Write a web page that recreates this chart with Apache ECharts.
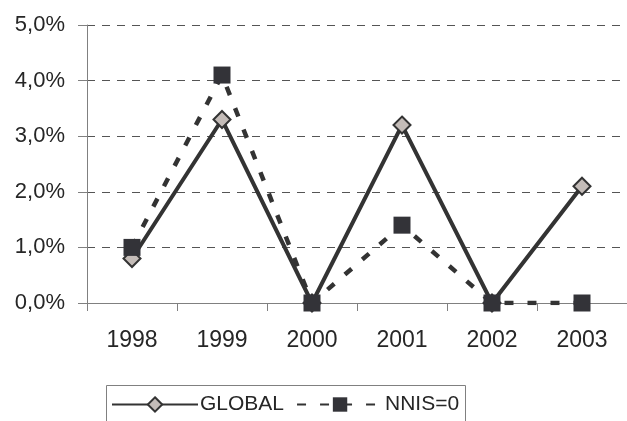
<!DOCTYPE html>
<html>
<head>
<meta charset="utf-8">
<script src="https://cdn.jsdelivr.net/npm/echarts@6/dist/echarts.min.js"></script>
<style>html,body{margin:0;padding:0;background:#fff;}#c{width:627px;height:421px;}</style>
</head>
<body>
<div id="c"></div>
<script>
var categories = ['1998', '1999', '2000', '2001', '2002', '2003'];
var globalValues = [0.8, 3.3, 0.0, 3.2, 0.0, 2.1];
var nnisValues = [1.0, 4.1, 0.0, 1.4, 0.0, 0.0];
var seriesNames = ['GLOBAL', 'NNIS=0'];

var chart = echarts.init(document.getElementById('c'), null, {renderer: 'canvas'});
var font = 'Liberation Sans, Arial, sans-serif';
chart.setOption({
  animation: false,
  backgroundColor: '#ffffff',
  grid: {left: 87, right: 0, top: 25, bottom: 118, containLabel: false},
  xAxis: {
    type: 'category',
    data: categories,
    boundaryGap: true,
    axisLine: {lineStyle: {color: '#808080', width: 1}},
    axisTick: {show: true, length: 8, inside: false, lineStyle: {color: '#808080'}},
    axisLabel: {margin: 26, color: '#262626', fontSize: 23, fontFamily: font}
  },
  yAxis: {
    type: 'value',
    min: 0, max: 5, interval: 1,
    axisLine: {show: true, lineStyle: {color: '#808080', width: 1}},
    axisTick: {show: true, length: 9, lineStyle: {color: '#808080'}},
    axisLabel: {
      margin: 22, color: '#262626', fontSize: 22, fontFamily: font,
      formatter: function (v) { return v.toFixed(1).replace('.', ',') + '%'; }
    },
    splitLine: {show: true, lineStyle: {color: '#555555', width: 1, type: [8, 7]}}
  },
  legend: {
    left: 111, top: 394, padding: 0,
    itemWidth: 86, itemHeight: 18, itemGap: 12,
    textStyle: {fontSize: 21, color: '#262626', fontFamily: font, padding: [0, 0, 0, -3]},
    data: seriesNames
  },
  graphic: [{
    type: 'rect', left: 104, top: 383, silent: true,
    shape: {width: 359, height: 60},
    style: {fill: 'none', stroke: '#808080', lineWidth: 1}
  }],
  series: [{
    name: seriesNames[0],
    type: 'line',
    data: globalValues,
    z: 2,
    symbol: 'diamond',
    symbolSize: 17,
    lineStyle: {color: '#333333', width: 4},
    itemStyle: {color: '#c4bcb8', borderColor: '#333333', borderWidth: 2},
    emphasis: {disabled: true}
  }, {
    name: seriesNames[1],
    type: 'line',
    data: nnisValues,
    z: 3,
    symbol: 'rect',
    symbolSize: 17,
    lineStyle: {color: '#333333', width: 4.5, type: [9, 14]},
    itemStyle: {color: '#333338', borderColor: '#333338', borderWidth: 0},
    emphasis: {disabled: true}
  }]
});
</script>
</body>
</html>
